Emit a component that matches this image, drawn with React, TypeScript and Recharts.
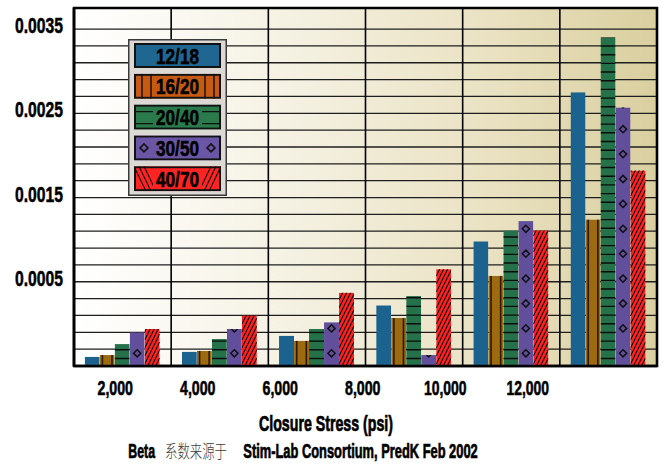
import React from 'react';
import { BarChart, Bar, XAxis, YAxis, CartesianGrid, Legend, ReferenceArea } from 'recharts';

// ---------- data ----------
const CATEGORIES = ['2,000', '4,000', '6,000', '8,000', '10,000', '12,000'];
const SERIES_NAMES = ['12/18', '16/20', '20/40', '30/50', '40/70'];
const S_12_18 = [0.00011, 0.00017, 0.00036, 0.00072, 0.00148, 0.00325];
const S_16_20 = [0.00013, 0.00018, 0.0003, 0.00057, 0.00107, 0.00174];
const S_20_40 = [0.00026, 0.00032, 0.00044, 0.00083, 0.00161, 0.0039];
const S_30_50 = [0.0004, 0.00044, 0.00052, 0.00013, 0.00172, 0.00307];
const S_40_70 = [0.00044, 0.0006, 0.00087, 0.00115, 0.00161, 0.00232];
const SERIES_VALUES = [S_12_18, S_16_20, S_20_40, S_30_50, S_40_70];

const Y_TICK_VALUES = [0.001, 0.002, 0.003, 0.004];
const Y_TICK_LABELS = ['0.0005', '0.0015', '0.0025', '0.0035'];
const Y_GRID_STEP = 0.0002;
const Y_GRID_COUNT = 20;
const Y_MAX = 0.00425;

const X_TITLE = 'Closure Stress (psi)';
const SOURCE_PARTS = ['Beta', '系数来源于', 'Stim-Lab Consortium, PredK Feb 2002'];

// ---------- styles ----------
const FONT = "'Liberation Sans Narrow', 'Liberation Sans', 'DejaVu Sans Condensed', Arial, sans-serif";
const CJK_FONT = "'Noto Sans CJK SC', 'Noto Sans CJK JP', sans-serif";
const BAR_COLORS = ['#1b628e', '#9d6a10', '#24714a', '#624f9c', '#ff2121'];
const LEGEND_COLORS = ['#1f6690', '#c65a12', '#2a7a4c', '#6a56a4', '#ff2424'];
const HEAVY = { stroke: '#000', strokeWidth: 0.55 };
type Deco = 'none' | 'vlines' | 'hlines' | 'diamonds' | 'hatch';
const SERIES_DECO: Deco[] = ['none', 'vlines', 'hlines', 'diamonds', 'hatch'];

const data = CATEGORIES.map((cat, i) => {
  const row: Record<string, any> = { cat };
  SERIES_VALUES.forEach((arr, s) => {
    row['s' + s] = arr[i];
  });
  return row;
});

const gridTicks = Array.from({ length: Y_GRID_COUNT }, (_, i) => +((i + 1) * Y_GRID_STEP).toFixed(5));

function barDeco(kind: Deco, w: number, h: number) {
  const els: React.ReactNode[] = [];
  if (kind === 'vlines') {
    els.push(<line key="a" x1={2.7} x2={2.7} y1={0} y2={h} stroke="#2a1800" strokeWidth={1.6} />);
    els.push(<line key="b" x1={w - 2.7} x2={w - 2.7} y1={0} y2={h} stroke="#2a1800" strokeWidth={1.6} />);
  } else if (kind === 'hlines') {
    let k = 0;
    for (let yy = h - 7.5; yy > -2; yy -= 8.68) {
      els.push(<line key={k++} x1={0} x2={w} y1={yy} y2={yy} stroke="#0d0d0d" strokeWidth={1.4} />);
    }
  } else if (kind === 'diamonds') {
    let k = 0;
    const cx = w / 2;
    const r = 3.6;
    for (let cy = h - 12.7; cy > -6; cy -= 24.9) {
      els.push(
        <path key={k++} d={`M${cx},${cy - r}L${cx + r},${cy}L${cx},${cy + r}L${cx - r},${cy}Z`} fill="none" stroke="#111" strokeWidth={1.5} />
      );
    }
  } else if (kind === 'hatch') {
    let k = 0;
    for (let c = h + 2 * w; c > -2; c -= 8) {
      els.push(<line key={k++} x1={0} y1={c} x2={w} y2={c - 2 * w} stroke="#111" strokeWidth={1.1} />);
    }
  }
  return els;
}

const makeShape = (s: number) => (props: any) => {
  const { x, y, width, height } = props;
  if (!(width > 0) || !(height > 0)) return <g />;
  return (
    <svg x={x} y={y} width={width} height={height} style={{ overflow: 'hidden' }}>
      <rect x={0} y={0} width={width} height={height} fill={BAR_COLORS[s]} />
      {barDeco(SERIES_DECO[s], width, height)}
    </svg>
  );
};

function legendDeco(kind: Deco, w: number, h: number) {
  const els: React.ReactNode[] = [];
  const st = '#1a1000';
  if (kind === 'vlines') {
    [8, 17, w - 16, w - 7].forEach((lx, i) =>
      els.push(<line key={i} x1={lx} x2={lx} y1={0} y2={h} stroke={st} strokeWidth={1.5} />)
    );
  } else if (kind === 'hlines') {
    [7, 19].forEach((ly, i) => els.push(<line key={i} x1={0} x2={w} y1={ly} y2={ly} stroke="#111" strokeWidth={1.4} />));
  } else if (kind === 'diamonds') {
    const r = 4;
    [10, w - 10].forEach((cx, i) => {
      const cy = h / 2;
      els.push(
        <path key={i} d={`M${cx},${cy - r}L${cx + r},${cy}L${cx},${cy + r}L${cx - r},${cy}Z`} fill="none" stroke="#111" strokeWidth={1.5} />
      );
    });
  } else if (kind === 'hatch') {
    [0, 5, 10].forEach((o, i) => {
      els.push(<line key={'l' + i} x1={o} y1={0} x2={o + 12} y2={h} stroke="#111" strokeWidth={1.1} />);
      els.push(<line key={'r' + i} x1={w - o} y1={0} x2={w - o - 12} y2={h} stroke="#111" strokeWidth={1.1} />);
    });
  }
  return els;
}

const LegendContent = (props: any) => {
  const payload = props.payload || [];
  const sw = 87;
  const sh = 25;
  return (
    <svg width={99} height={157} style={{ display: 'block' }}>
      <rect x={0.75} y={0.75} width={97.5} height={155.5} fill="#dcd8d4" stroke="#3a3a3a" strokeWidth={1.5} />
      {payload.map((p: any, i: number) => {
        const idx = SERIES_NAMES.indexOf(p.value);
        const s = idx >= 0 ? idx : i;
        const col = LEGEND_COLORS[s];
        return (
          <svg key={i} x={6} y={4 + i * 30.8} width={sw} height={sh} style={{ overflow: 'hidden' }}>
            <rect x={0} y={0} width={sw} height={sh} fill={col} />
            {legendDeco(SERIES_DECO[s], sw, sh)}
            <rect x={19} y={2} width={sw - 38} height={sh - 4} fill={col} />
            <rect x={1} y={1} width={sw - 2} height={sh - 2} fill="none" stroke="#111" strokeWidth={2} />
            <text
              x={sw / 2}
              y={20.5}
              textAnchor="middle"
              fontFamily={FONT}
              fontWeight="bold"
              fontSize={22}
              textLength={43}
              lengthAdjust="spacingAndGlyphs"
              fill="#000"
              {...HEAVY}
            >
              {p.value}
            </text>
          </svg>
        );
      })}
    </svg>
  );
};

const YTick = (props: any) => {
  const { x, y, payload } = props;
  const idx = Y_TICK_VALUES.findIndex((v) => Math.abs(v - payload.value) < 1e-9);
  if (idx < 0) return <g />;
  const label = Y_TICK_LABELS[idx];
  return (
    <text
      x={x - 11}
      y={y + 4}
      textAnchor="end"
      fontFamily={FONT}
      fontWeight="bold"
      fontSize={22}
      textLength={label.length * 8}
      lengthAdjust="spacingAndGlyphs"
      fill="#000"
      {...HEAVY}
    >
      {label}
    </text>
  );
};

const XTick = (props: any) => {
  const { x, y, payload } = props;
  const label = String(payload.value);
  return (
    <text
      x={x}
      y={y + 29}
      textAnchor="middle"
      fontFamily={FONT}
      fontWeight="bold"
      fontSize={19.5}
      textLength={label.length * 7.1}
      lengthAdjust="spacingAndGlyphs"
      fill="#000"
      {...HEAVY}
    >
      {label}
    </text>
  );
};

export default function App() {
  return (
    <div style={{ position: 'absolute', left: 0, top: 0, width: 664, height: 464, background: '#fff' }}>
      <BarChart
        width={664}
        height={464}
        data={data}
        margin={{ top: 8, right: 7, bottom: 68, left: 4 }}
        barCategoryGap="11%"
        barGap={0}
      >
        <defs>
          <linearGradient id="plotBg" x1="0" y1="0" x2="1" y2="0">
            <stop offset="0%" stopColor="#ffffff" />
            <stop offset="40%" stopColor="#f4f0e0" />
            <stop offset="72%" stopColor="#e9e1c1" />
            <stop offset="100%" stopColor="#d9cf9f" />
          </linearGradient>
        </defs>
        <CartesianGrid vertical={false} fill="url(#plotBg)" fillOpacity={1} stroke="#1e1e1e" strokeWidth={1.3} />
        <CartesianGrid
          horizontal={false}
          stroke="#000"
          strokeWidth={1.6}
          verticalCoordinatesGenerator={({ offset }: any) =>
            CATEGORIES.slice(1).map((_, i) => offset.left + ((i + 1) * offset.width) / CATEGORIES.length)
          }
        />
        <XAxis
          xAxisId="lab"
          dataKey="cat"
          height={30}
          padding={{ left: 0, right: 88 }}
          interval={0}
          tickSize={0}
          tickMargin={0}
          tickLine={false}
          axisLine={{ stroke: '#000', strokeWidth: 2.6 }}
          tick={<XTick />}
        />
        <XAxis dataKey="cat" hide height={0} />
        <YAxis
          type="number"
          domain={[0, Y_MAX]}
          ticks={gridTicks}
          interval={0}
          width={70}
          tickSize={0}
          tickMargin={0}
          tickLine={false}
          axisLine={{ stroke: '#000', strokeWidth: 2.6 }}
          tick={<YTick />}
        />
        <ReferenceArea y1={0} y2={Y_MAX} fill="none" fillOpacity={0} stroke="#000" strokeWidth={2.6} ifOverflow="visible" />
        <Legend
          layout="vertical"
          align="center"
          verticalAlign="middle"
          content={<LegendContent />}
          wrapperStyle={{ position: 'absolute', left: 128, top: 39, width: 99, height: 157 }}
        />
        {SERIES_NAMES.map((name, s) => (
          <Bar
            key={name}
            dataKey={'s' + s}
            name={name}
            fill={BAR_COLORS[s]}
            shape={makeShape(s)}
            isAnimationActive={false}
          />
        ))}
      </BarChart>
      <svg width={664} height={464} style={{ position: 'absolute', left: 0, top: 0, pointerEvents: 'none' }}>
        <g transform="translate(326,431) scale(1,1.3)">
          <text
            x={0}
            y={0}
            textAnchor="middle"
            fontFamily={FONT}
            fontWeight="bold"
            fontSize={17}
            textLength={134}
            lengthAdjust="spacingAndGlyphs"
            fill="#000"
            {...HEAVY}
          >
            {X_TITLE}
          </text>
        </g>
        <g transform="translate(128.3,457.6) scale(1,1.25)">
          <text x={0} y={0} fontFamily={FONT} fontWeight="bold" fontSize={16} textLength={26.7} lengthAdjust="spacingAndGlyphs" fill="#000" {...HEAVY}>
            {SOURCE_PARTS[0]}
          </text>
        </g>
        <g transform="translate(165,458.3) scale(1,1.28)">
          <text x={0} y={0} fontFamily={CJK_FONT} fontWeight={300} fontSize={14} textLength={62} lengthAdjust="spacingAndGlyphs" fill="#3a3a3a">
            {SOURCE_PARTS[1]}
          </text>
        </g>
        <g transform="translate(243.3,457.6) scale(1,1.25)">
          <text x={0} y={0} fontFamily={FONT} fontWeight="bold" fontSize={16} textLength={234.4} lengthAdjust="spacingAndGlyphs" fill="#000" {...HEAVY}>
            {SOURCE_PARTS[2]}
          </text>
        </g>
      </svg>
    </div>
  );
}
